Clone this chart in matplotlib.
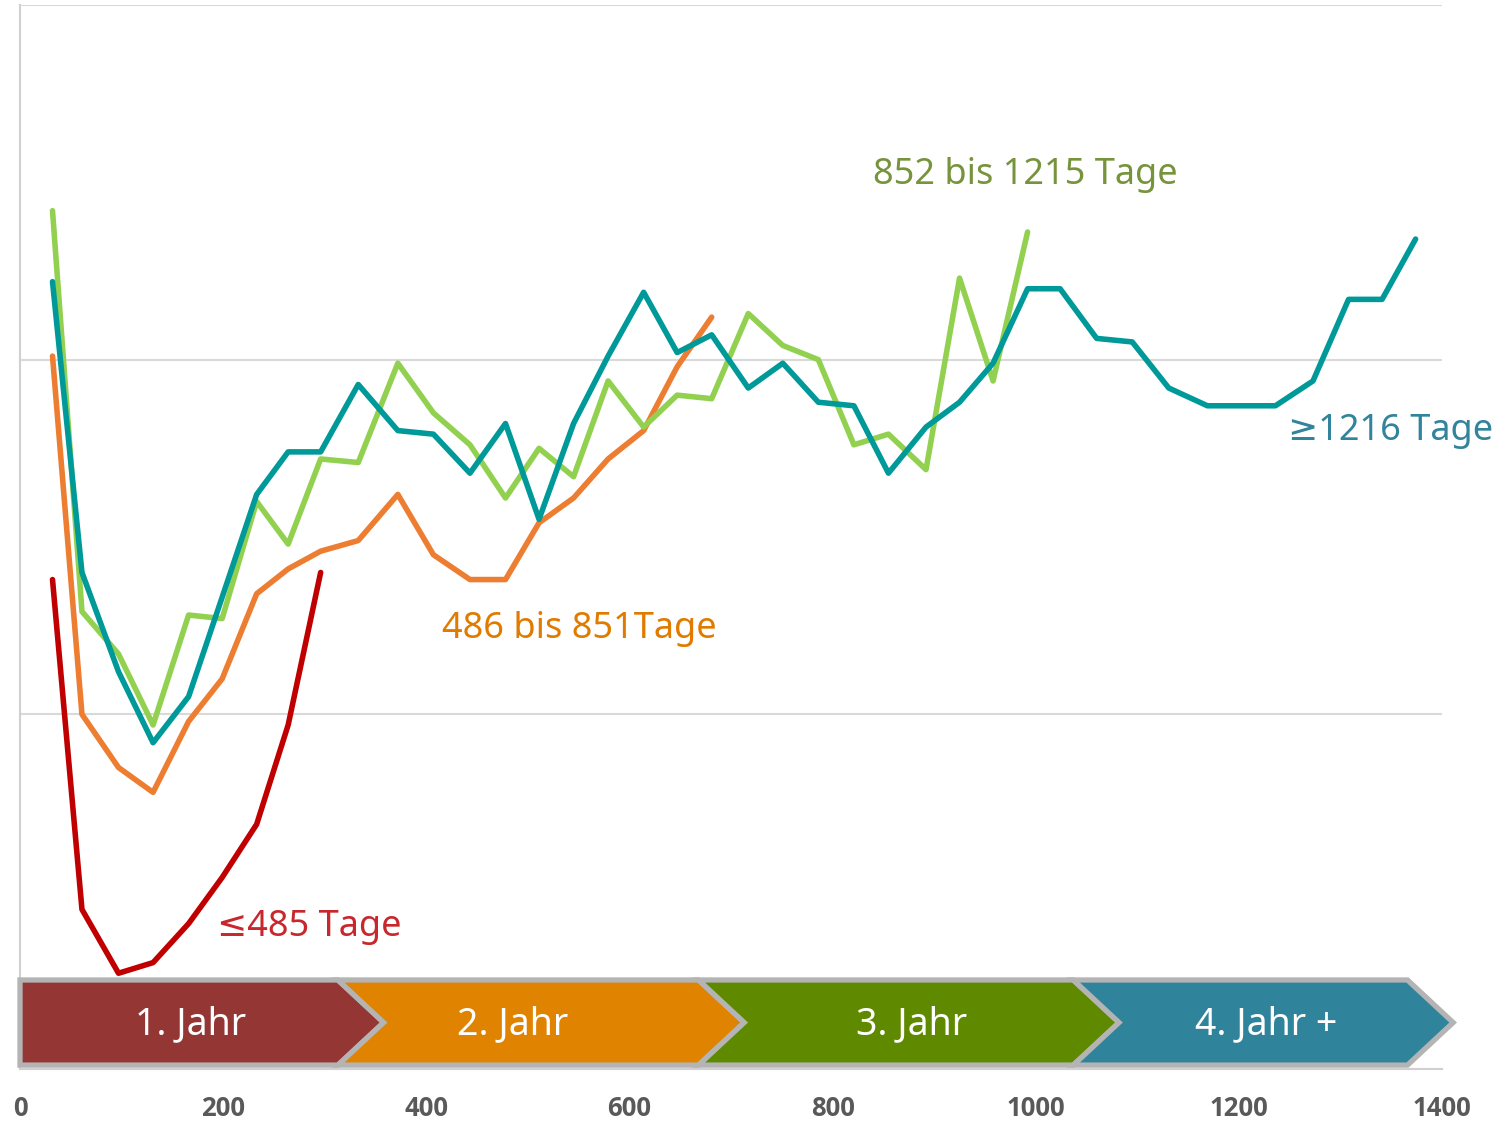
import matplotlib
matplotlib.use("Agg")
import matplotlib.pyplot as plt
from matplotlib.patches import Polygon

# x positions (days) of the measurement points
days = [32, 61, 97, 131, 166, 199, 233, 264, 296, 333, 372, 407, 443, 478, 511,
        545, 579, 614, 647, 681, 717, 751, 786, 821, 855, 892, 925, 958, 992, 1024,
        1060, 1095, 1131, 1169, 1201, 1236, 1273, 1308, 1341, 1374]

# series values (no axis labels in the original, read on a 0..30 scale)
upto_485 = [13.8, 4.5, 2.7, 3.0, 4.1, 5.4, 6.9, 9.7, 14.0]
from_486 = [20.1, 10.0, 8.5, 7.8, 9.8, 11.0, 13.4, 14.1, 14.6, 14.9, 16.2, 14.5,
            13.8, 13.8, 15.4, 16.1, 17.2, 18.0, 19.8, 21.2]
from_852 = [24.2, 12.9, 11.7, 9.7, 12.8, 12.7, 16.0, 14.8, 17.2, 17.1, 19.9, 18.5,
            17.6, 16.1, 17.5, 16.7, 19.4, 18.1, 19.0, 18.9, 21.3, 20.4, 20.0, 17.6,
            17.9, 16.9, 22.3, 19.4, 23.6]
from_1216 = [22.2, 14.0, 11.2, 9.2, 10.5, 13.3, 16.2, 17.4, 17.4, 19.3, 18.0, 17.9,
             16.8, 18.2, 15.5, 18.2, 20.1, 21.9, 20.2, 20.7, 19.2, 19.9, 18.8, 18.7,
             16.8, 18.1, 18.8, 19.9, 22.0, 22.0, 20.6, 20.5, 19.2, 18.7, 18.7, 18.7,
             19.4, 21.7, 21.7, 23.4]

series_labels = ["≤485 Tage", "486 bis 851Tage", "852 bis 1215 Tage", "≥1216 Tage"]
year_labels = ["1. Jahr", "2. Jahr", "3. Jahr", "4. Jahr +"]
year_bounds = [0, 313, 668, 1037, 1366]
xticks = [0, 200, 400, 600, 800, 1000, 1200, 1400]

fig = plt.figure(figsize=(14.95, 11.22), dpi=100)
ax = fig.add_axes([20 / 1495, 1 - 1069 / 1122, 1422 / 1495, 1064 / 1122])

lw = 4.0
ax.plot(days[:len(upto_485)], upto_485, color="#C00000", lw=lw, solid_capstyle="round")
ax.plot(days[:len(from_486)], from_486, color="#ED7D31", lw=lw, solid_capstyle="round")
ax.plot(days[:len(from_852)], from_852, color="#92D050", lw=lw, solid_capstyle="round")
ax.plot(days[:len(from_1216)], from_1216, color="#009999", lw=lw, solid_capstyle="round")

ax.set_xlim(0, 1400)
ax.set_ylim(0, 30)
ax.set_yticks([10, 20, 30])
ax.yaxis.grid(True, color="#d9d9d9", lw=1.5)
ax.set_axisbelow(True)
ax.tick_params(axis="y", length=0, labelleft=False)
for s in ["top", "right"]:
    ax.spines[s].set_visible(False)
for s in ["left", "bottom"]:
    ax.spines[s].set_color("#d0d0d0")
    ax.spines[s].set_linewidth(1.5)

ax.set_xticks(xticks)
ax.set_xticklabels([str(v) for v in xticks], fontsize=18.5, fontweight="bold",
                   color="#595959", family=["Open Sans", "DejaVu Sans"])
ax.tick_params(axis="x", length=0, pad=19)

# curve labels
fam = ["Noto Sans", "DejaVu Sans"]
ax.text(285, 4.0, series_labels[0], color="#C8282D", fontsize=26, family=fam, ha="center", va="center")
ax.text(551, 12.4, series_labels[1], color="#E07B00", fontsize=26, family=fam, ha="center", va="center")
ax.text(990, 25.2, series_labels[2], color="#77933C", fontsize=26, family=fam, ha="center", va="center")
ax.text(1349, 18.0, series_labels[3], color="#31849B", fontsize=26, family=fam, ha="center", va="center")

# year chevrons along the bottom
yb, yt, ym = 0.11, 2.51, 1.31
d = 45
colors = ["#943634", "#E08300", "#5F8A00", "#2F849B"]
text_x = [168, 485, 878, 1227]
for i in range(4):
    L, R = year_bounds[i], year_bounds[i + 1]
    pts = [(L, yb), (R, yb), (R + d, ym), (R, yt), (L, yt)]
    if i > 0:
        pts.append((L + d, ym))
    ax.add_patch(Polygon(pts, closed=True, facecolor=colors[i], edgecolor="#b4b4b4",
                         lw=3.8, joinstyle="miter", clip_on=False, zorder=5))
    ax.text(text_x[i], 1.27, year_labels[i], color="white", fontsize=27, family=fam,
            ha="center", va="center", zorder=6)

fig.savefig("out.png", dpi=100)
